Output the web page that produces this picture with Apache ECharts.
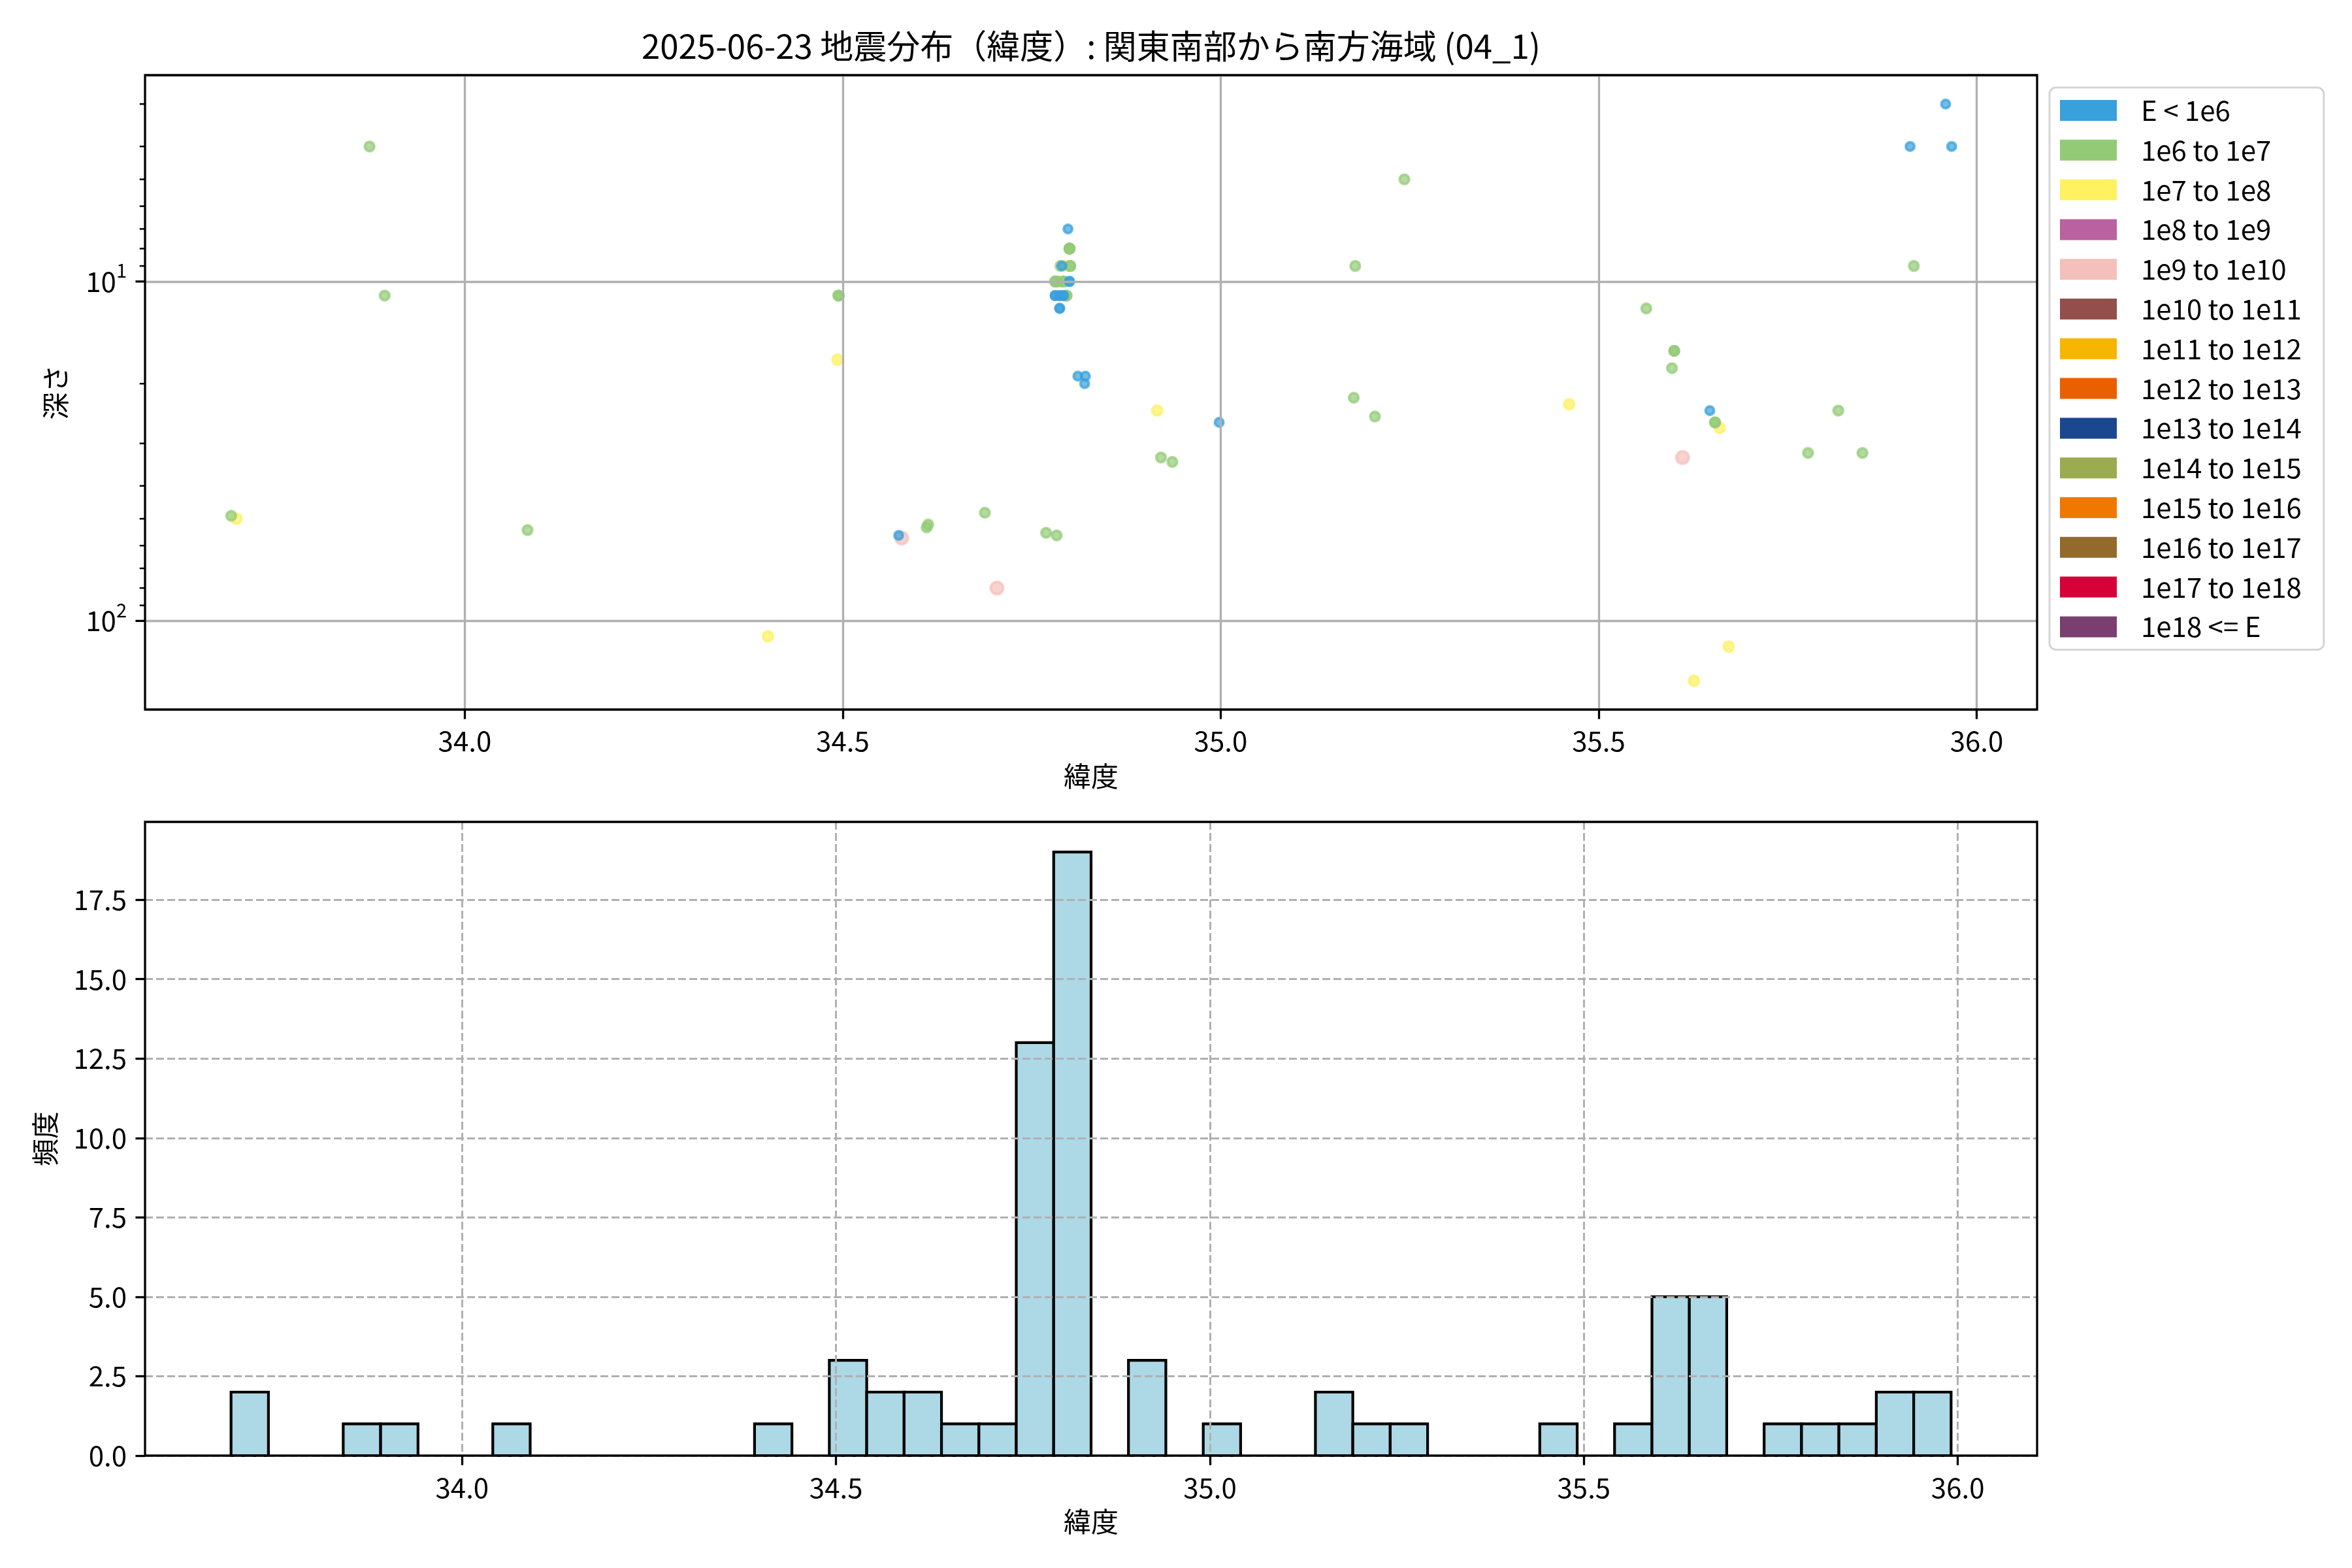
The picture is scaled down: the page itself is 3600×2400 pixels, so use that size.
<!DOCTYPE html>
<html><head><meta charset="utf-8">
<script src="https://cdn.jsdelivr.net/npm/echarts@6/dist/echarts.min.js"></script>
<style>html,body{margin:0;padding:0;background:#fff}#c{width:3600px;height:2400px}</style>
</head><body><div id="c"></div>
<script>
const FONT = '"Noto Sans CJK JP", "Noto Sans", sans-serif';

// ---- data ----
const titleText = '2025-06-23 地震分布（緯度）: 関東南部から南方海域 (04_1)';
const energyClasses = ['E < 1e6', '1e6 to 1e7', '1e7 to 1e8', '1e8 to 1e9', '1e9 to 1e10',
  '1e10 to 1e11', '1e11 to 1e12', '1e12 to 1e13', '1e13 to 1e14', '1e14 to 1e15',
  '1e15 to 1e16', '1e16 to 1e17', '1e17 to 1e18', '1e18 <= E'];

// E < 1e6
const latBelow1e6 = [34.574, 34.798, 34.790, 34.800, 34.800, 34.781, 34.781, 34.787, 34.787, 34.792, 34.792,
  34.787, 34.787, 34.811, 34.821, 34.820, 34.998, 35.647, 35.959, 35.912, 35.967];
const depthBelow1e6 = [56, 7, 9, 10, 10, 11, 11, 11, 11, 11, 11, 12, 12, 19, 19, 20, 26, 24, 3.0, 4.0, 4.0];
// 1e6 to 1e7
const lat1e6to1e7 = [33.691, 33.874, 33.894, 34.083, 34.494, 34.495, 34.613, 34.611, 34.688, 34.769, 34.783,
  34.800, 34.800, 34.800, 34.800, 34.788, 34.801, 34.801, 34.781, 34.781, 34.785, 34.792, 34.792, 34.796, 34.796,
  34.921, 34.936, 35.178, 35.176, 35.204, 35.243, 35.563, 35.600, 35.600, 35.597, 35.654, 35.654,
  35.817, 35.777, 35.849, 35.917];
const depth1e6to1e7 = [49, 4.0, 11, 54, 11, 11, 52, 53, 48, 55, 56,
  8, 8, 8, 8, 9, 9, 9, 10, 10, 10, 10, 10, 11, 11,
  33, 34, 9, 22, 25, 5.0, 12, 16, 16, 18, 26, 26,
  24, 32, 32, 9];
// 1e7 to 1e8
const lat1e7to1e8 = [33.698, 34.493, 34.401, 34.795, 34.916, 35.461, 35.660, 35.672, 35.626];
const depth1e7to1e8 = [50, 17, 111, 9, 24, 23, 27, 119, 150];
// 1e9 to 1e10
const lat1e9to1e10 = [34.578, 34.704, 35.611];
const depth1e9to1e10 = [57, 80, 33];

// histogram (latitude bins)
const histBinStart = 33.691;
const histBinWidth = 0.05;
const histCounts = [2,0,0,1,1,0,0,1,0,0, 0,0,0,0,1,0,3,2,2,1, 1,13,19,0,3,0,1,0,0,2, 1,1,0,0,0,1,0,1,5,5, 0,1,1,1,2,2];

// ticks
const latTicks = [34.0, 34.5, 35.0, 35.5, 36.0];
const depthMajorTicks = [10, 100];
const depthMinorTicks = [3, 4, 5, 6, 7, 8, 9, 20, 30, 40, 50, 60, 70, 80, 90];
const countTicks = [0, 2.5, 5, 7.5, 10, 12.5, 15, 17.5];

// ---- styles ----
const classColors = ['#38a0db', '#93ca76', '#fff160', '#b9629f', '#f5bfbb', '#934f4b', '#f8b500',
  '#ea6000', '#1b4690', '#9aab50', '#ef7800', '#936a2c', '#d70039', '#7a3f6f'];
const classSizes = [13, 14.5, 15.5, 16.5, 19, 20, 21, 22, 23, 24, 25, 26, 27, 28];
const classPoints = {0: [latBelow1e6, depthBelow1e6], 1: [lat1e6to1e7, depth1e6to1e7],
  2: [lat1e7to1e8, depth1e7to1e8], 4: [lat1e9to1e10, depth1e9to1e10]};
const drawOrder = [5,6,7,8,9,10,11,12,13,3,4,2,1,0];

const X0 = [33.577, 36.080];
const Y0 = [2.466, 182.4];
const X1 = [33.576, 36.106];
const Y1 = [0, 19.95];

function rgba(hex, a) {
  const n = parseInt(hex.slice(1), 16);
  return 'rgba(' + ((n >> 16) & 255) + ',' + ((n >> 8) & 255) + ',' + (n & 255) + ',' + a + ')';
}

const labelStyle = {fontSize: 42, fontFamily: FONT, color: '#000'};
const nameStyle = {fontSize: 42, fontFamily: FONT, color: '#000'};
const tickStyle = {show: true, length: 14.6, lineStyle: {color: '#000', width: 3.3}};

const scatterSeries = drawOrder.map(i => {
  const pts = classPoints[i];
  const data = pts ? pts[0].map((v, k) => [v, pts[1][k]]) : [];
  return {
    type: 'scatter', name: energyClasses[i], xAxisIndex: 0, yAxisIndex: 0,
    data: data, symbol: 'circle', symbolSize: classSizes[i], z: 2,
    itemStyle: {color: rgba(classColors[i], 0.7), borderColor: rgba(classColors[i], 0.7), borderWidth: 4, opacity: 1},
    emphasis: {disabled: true}, silent: true
  };
});

const depthTickData = depthMajorTicks.map(v => [X0[0], v, 1]).concat(depthMinorTicks.map(v => [X0[0], v, 0]));

const option = {
  animation: false,
  backgroundColor: '#fff',
  textStyle: {fontFamily: FONT},
  graphic: [{
    type: 'text', x: 1670, y: 71, z: 10,
    style: {text: titleText, font: '51px ' + FONT, fill: '#000', align: 'center', verticalAlign: 'middle'}
  }],
  grid: [
    {left: 222, top: 115, width: 2896, height: 971, show: true, borderColor: '#000', borderWidth: 3.3,
      backgroundColor: 'transparent', z: 4, containLabel: false, outerBoundsMode: 'none'},
    {left: 222, top: 1258, width: 2896, height: 970, show: true, borderColor: '#000', borderWidth: 3.3,
      backgroundColor: 'transparent', z: 4, containLabel: false, outerBoundsMode: 'none'}
  ],
  legend: {
    orient: 'vertical', left: 3137, top: 134, padding: [14, 34, 14, 16],
    itemGap: 18.8, itemWidth: 87, itemHeight: 32, icon: 'rect',
    borderColor: '#d5d5d5', borderWidth: 3, borderRadius: 10, backgroundColor: '#fff',
    selectedMode: false,
    textStyle: {fontSize: 42, fontFamily: FONT, color: '#000', lineHeight: 42, padding: [0, 0, 0, 32]},
    itemStyle: {borderWidth: 0},
    data: energyClasses.map((c, i) => ({name: c, itemStyle: {color: classColors[i], opacity: 1, borderWidth: 0}}))
  },
  xAxis: [
    {
      type: 'value', gridIndex: 0, min: X0[0], max: X0[1], z: 3,
      axisLine: {show: false},
      axisTick: Object.assign({customValues: latTicks}, tickStyle),
      axisLabel: Object.assign({customValues: latTicks, margin: 27, formatter: v => v.toFixed(1)}, labelStyle),
      splitLine: {show: true, lineStyle: {color: '#b0b0b0', width: 3.3}},
      name: '緯度', nameLocation: 'middle', nameGap: 81, nameTextStyle: nameStyle
    },
    {
      type: 'value', gridIndex: 1, min: X1[0], max: X1[1], z: 3,
      axisLine: {show: false},
      axisTick: Object.assign({customValues: latTicks}, tickStyle),
      axisLabel: Object.assign({customValues: latTicks, margin: 28, formatter: v => v.toFixed(1)}, labelStyle),
      splitLine: {show: true, lineStyle: {color: '#b0b0b0', width: 3, type: [12, 5]}},
      name: '緯度', nameLocation: 'middle', nameGap: 80, nameTextStyle: nameStyle
    }
  ],
  yAxis: [
    {
      type: 'log', logBase: 10, gridIndex: 0, min: Y0[0], max: Y0[1], inverse: true, z: 3,
      axisLine: {show: false},
      axisTick: {show: false},
      axisLabel: {
        margin: 28,
        formatter: v => {
          const e = Math.log10(v);
          if (Math.abs(e - Math.round(e)) < 1e-6) return '{b|10}{s|' + Math.round(e) + '}';
          return '';
        },
        rich: {
          b: {fontSize: 42, fontFamily: FONT, color: '#000', lineHeight: 62, verticalAlign: 'middle'},
          s: {fontSize: 29, fontFamily: FONT, color: '#000', lineHeight: 30, verticalAlign: 'top'}
        }
      },
      splitLine: {show: true, lineStyle: {color: '#b0b0b0', width: 3.3}},
      name: '深さ', nameLocation: 'middle', nameRotate: 90, nameGap: 116, nameTextStyle: nameStyle
    },
    {
      type: 'value', gridIndex: 1, min: Y1[0], max: Y1[1], z: 3,
      axisLine: {show: false},
      axisTick: Object.assign({customValues: countTicks}, tickStyle),
      axisLabel: Object.assign({customValues: countTicks, margin: 28, formatter: v => v.toFixed(1)}, labelStyle),
      splitLine: {show: true, lineStyle: {color: '#b0b0b0', width: 3, type: [12, 5]}},
      name: '頻度', nameLocation: 'middle', nameRotate: 90, nameGap: 132, nameTextStyle: nameStyle
    }
  ],
  series: scatterSeries.concat([
    {
      type: 'custom', name: 'depthTicks', xAxisIndex: 0, yAxisIndex: 0, silent: true, clip: false, z: 5,
      data: depthTickData, encode: {x: 0, y: 1},
      renderItem: (params, api) => {
        const major = api.value(2) === 1;
        const p = api.coord([api.value(0), api.value(1)]);
        const len = major ? 14.6 : 8.3;
        return {type: 'line', shape: {x1: p[0] - len, y1: p[1], x2: p[0], y2: p[1]},
          style: {stroke: '#000', lineWidth: major ? 3.3 : 2.5}};
      }
    },
    {
      type: 'custom', name: 'hist', xAxisIndex: 1, yAxisIndex: 1, silent: true, z: 2,
      data: histCounts.map((c, i) => [histBinStart + i * histBinWidth, histBinStart + (i + 1) * histBinWidth, c]),
      encode: {x: [0, 1], y: 2},
      renderItem: (params, api) => {
        const c = api.value(2);
        if (!c) return {type: 'group', children: []};
        const p0 = api.coord([api.value(0), c]);
        const p1 = api.coord([api.value(1), 0]);
        return {type: 'rect', shape: {x: p0[0], y: p0[1], width: p1[0] - p0[0], height: p1[1] - p0[1]},
          style: {fill: '#add8e6', stroke: '#000', lineWidth: 4.2}};
      }
    }
  ])
};

const chart = echarts.init(document.getElementById('c'), null, {renderer: 'canvas', width: 3600, height: 2400});
chart.setOption(option);
</script>
</body></html>
